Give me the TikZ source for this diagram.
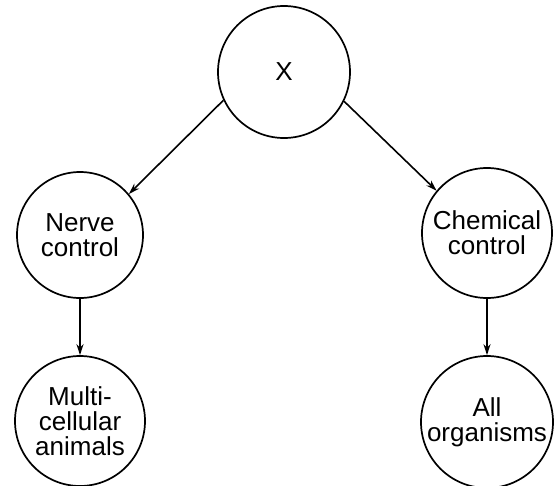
\documentclass[tikz,border=0pt]{standalone}
\usepackage{fontspec}
\setmainfont{Liberation Sans}
\usetikzlibrary{arrows.meta}
\begin{document}
\begin{tikzpicture}[x=1pt,y=-1pt,
  bubble/.style={draw, circle, line width=1.7pt, inner sep=0pt, align=center,
    font=\fontsize{26}{25}\selectfont},
  link/.style={line width=1.6pt, -{Stealth[length=11pt,width=7pt]}}]
\useasboundingbox (0,0) rectangle (554,485);
\node[bubble, minimum size=132pt] (x) at (284,72) {X};
\node[bubble, minimum size=126pt] (nerve) at (80,235) {Nerve\\control};
\node[bubble, minimum size=130pt] (chem) at (487,233) {Chemical\\control};
\node[bubble, minimum size=130pt] (multi) at (80,421) {Multi-\\cellular\\animals};
\node[bubble, minimum size=132pt] (all) at (487,422) {All\\organisms};
\draw[link] (x.205) -- (nerve.40);
\draw[link] (x.334) -- (chem.140);
\draw[link] (nerve) -- (multi);
\draw[link] (chem) -- (all);
\end{tikzpicture}
\end{document}
